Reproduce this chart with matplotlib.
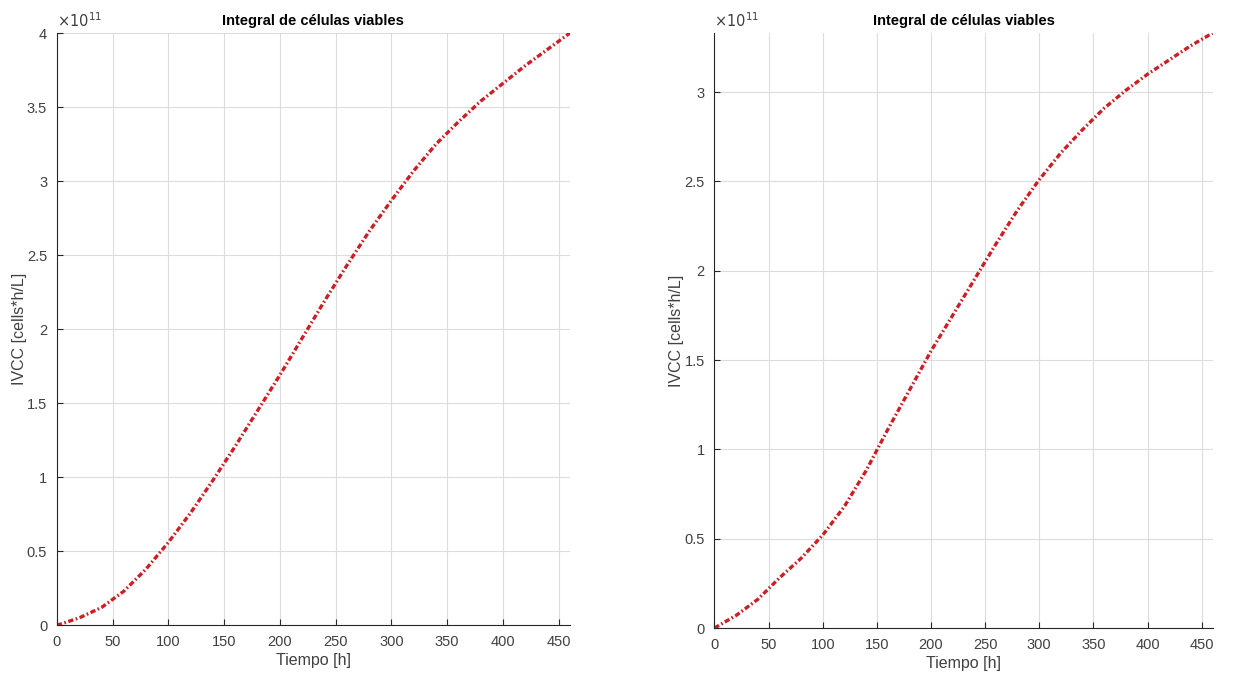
import matplotlib.pyplot as plt
import numpy as np
from matplotlib.ticker import FuncFormatter

plt.rcParams['font.family'] = ['Liberation Sans', 'DejaVu Sans']

# tiempo [h]
t = [0, 20, 40, 60, 80, 100, 120, 140, 160, 180, 200, 220, 240, 260, 280, 300,
     320, 340, 360, 380, 400, 420, 440, 460]
# IVCC (x 1e11)
ivcc_left = [0, 0.05, 0.12, 0.23, 0.38, 0.56, 0.76, 0.98, 1.21, 1.45, 1.69, 1.94,
             2.19, 2.43, 2.66, 2.87, 3.07, 3.25, 3.40, 3.54, 3.66, 3.78, 3.89, 4.0]
ivcc_right = [0, 0.07, 0.16, 0.28, 0.39, 0.52, 0.68, 0.88, 1.11, 1.33, 1.55, 1.75,
              1.95, 2.15, 2.34, 2.51, 2.66, 2.79, 2.91, 3.01, 3.10, 3.18, 3.26, 3.33]

fig = plt.figure(figsize=(12.36, 6.76), dpi=100)
ax1 = fig.add_axes([0.046, 0.075, 0.415, 0.876])
ax2 = fig.add_axes([0.578, 0.071, 0.403, 0.880])

gray = '#404040'
for ax, y, ytop in [(ax1, ivcc_left, 4.0e11), (ax2, ivcc_right, 3.33e11)]:
    ax.plot(t, np.array(y) * 1e11, color='#cc1f25', lw=2.4,
            dashes=(1.6, 0.75, 0.5, 0.75))
    ax.set_xlim(0, 460)
    ax.set_ylim(0, ytop)
    ax.set_xticks(np.arange(0, 451, 50))
    ax.set_yticks(np.arange(0, ytop + 1, 0.5e11))
    ax.yaxis.set_major_formatter(FuncFormatter(lambda v, p: '%g' % (v / 1e11)))
    ax.text(0, 1.005, r'$\times 10^{11}$', transform=ax.transAxes,
            fontsize=10.5, color=gray, va='bottom', ha='left')
    ax.grid(True, color='#dcdcdc', lw=0.8)
    ax.set_axisbelow(True)
    for s in ['top', 'right']:
        ax.spines[s].set_visible(False)
    for s in ['left', 'bottom']:
        ax.spines[s].set_color('#262626')
    ax.tick_params(direction='in', length=4, labelsize=10.5, colors='#262626',
                   labelcolor=gray, pad=7)
    ax.set_title('Integral de células viables', fontsize=10.5, fontweight='bold',
                 pad=6)
    ax.set_xlabel('Tiempo [h]', fontsize=11.5, color=gray, labelpad=3)
    ax.set_ylabel('IVCC [cells*h/L]', fontsize=11.5, color=gray, labelpad=0)

plt.savefig('out.png')
